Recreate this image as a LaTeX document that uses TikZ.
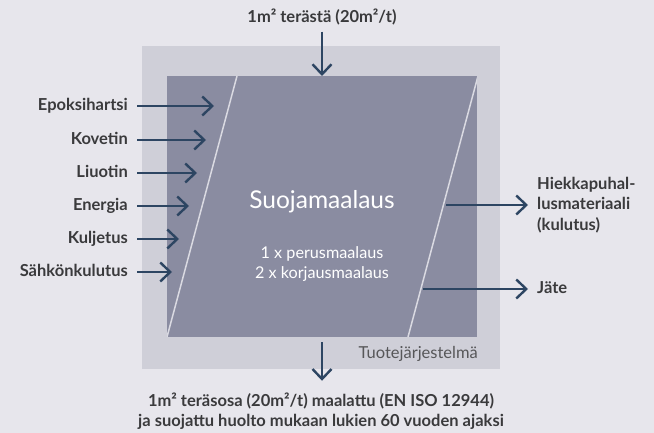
\documentclass[tikz,border=0pt]{standalone}
\usepackage{fontspec}
\setmainfont{Lato}
\usetikzlibrary{positioning,arrows.meta}
\definecolor{bgc}{HTML}{E7E6EC}
\definecolor{outc}{HTML}{CFCFD8}
\definecolor{innc}{HTML}{8A8CA1}
\definecolor{slc}{HTML}{DADAE2}
\definecolor{arc}{HTML}{2D4562}
\definecolor{txc}{HTML}{3A3A3C}

\begin{document}
\begin{tikzpicture}[x=1pt,y=-1pt,>={Straight Barb[length=10pt,width=19pt]},
  flow/.style={->,draw=arc,line width=2.4pt},
  lbl/.style={font=\fontsize{16.5}{19}\selectfont\bfseries,text=txc,inner sep=0pt,text height=12pt,text depth=3pt},
  mlbl/.style={font=\fontsize{16.5}{20.5}\selectfont\bfseries,text=txc,inner sep=0pt}]
% background and boxes
\fill[bgc] (0,0) rectangle (654,433);
\fill[outc] (142,46) rectangle (500,369);
\fill[innc] (167,76) rectangle (477,337);
\begin{scope}
\clip (167,76) rectangle (477,337);
\draw[slc,line width=1.5pt] (237,76) -- (167,337);
\draw[slc,line width=1.5pt] (478,76) -- (408,337);
\end{scope}

% texts
\node[lbl] (ttl) at (322,18) {1m² terästä (20m²/t)};
\node[white,font=\fontsize{24.5}{28}\selectfont] (main) at (322,202) {Suojamaalaus};
\node[white,font=\fontsize{16.2}{20}\selectfont,align=center] (cnt) at (322,264) {1 x perusmaalaus\\2 x korjausmaalaus};
\node[anchor=east,text=txc!85,font=\fontsize{16.5}{19}\selectfont,inner sep=0pt] (sys) at (478,354) {Tuotejärjestelmä};
\node[mlbl,align=center,font=\fontsize{16.5}{19.5}\selectfont\bfseries] (out) at (321,411) {1m² teräsosa (20m²/t) maalattu (EN ISO 12944)\\ja suojattu huolto mukaan lukien 60 vuoden ajaksi};

% inputs
\node[lbl,anchor=east] (epo) at (128,106) {Epoksihartsi};
\node[lbl,anchor=east] (kov) at (128,140) {Kovetin};
\node[lbl,anchor=east] (liu) at (128,173) {Liuotin};
\node[lbl,anchor=east] (ene) at (128,206) {Energia};
\node[lbl,anchor=east] (kul) at (128,239) {Kuljetus};
\node[lbl,anchor=east] (sah) at (128,272) {Sähkönkulutus};

% outputs
\node[mlbl,anchor=west,align=left] (hiek) at (537,205) {Hiekkapuhal-\\lusmateriaali\\(kulutus)};
\node[lbl,anchor=west] (jate) at (537,289) {Jäte};

% arrow ends
\coordinate (ttlT) at (322,76);
\coordinate (epoT) at (214,106);
\coordinate (kovT) at (206,140);
\coordinate (liuT) at (197,173);
\coordinate (eneT) at (189,206);
\coordinate (kulT) at (179,239);
\coordinate (sahT) at (172,272);
\coordinate (hiekS) at (446,205);
\coordinate (jateS) at (423,289);
\coordinate (outS) at (322,342);

\draw[flow] ([yshift=-6pt]ttl.south) -- (ttlT);
\draw[flow] ([xshift=9pt]epo.east) -- (epoT);
\draw[flow] ([xshift=9pt]kov.east) -- (kovT);
\draw[flow] ([xshift=9pt]liu.east) -- (liuT);
\draw[flow] ([xshift=9pt]ene.east) -- (eneT);
\draw[flow] ([xshift=9pt]kul.east) -- (kulT);
\draw[flow] ([xshift=9pt]sah.east) -- (sahT);
\draw[flow] (hiekS) -- ([xshift=-9pt]hiek.west);
\draw[flow] (jateS) -- ([xshift=-9pt]jate.west);
\draw[flow] (outS) -- ([yshift=12pt]out.north -| outS);
\end{tikzpicture}
\end{document}
